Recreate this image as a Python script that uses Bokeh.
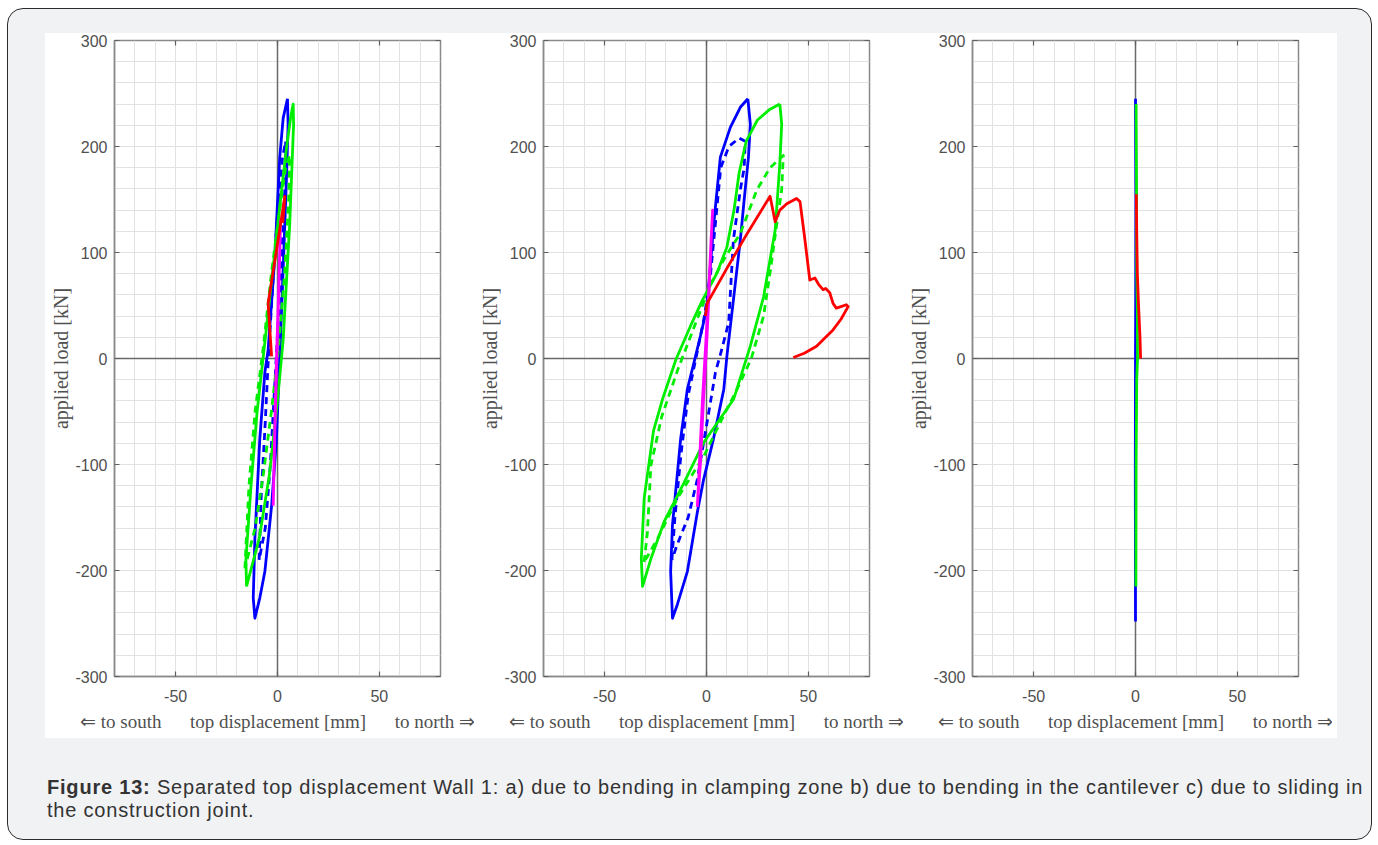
from bokeh.plotting import figure
from bokeh.layouts import row, column
from bokeh.models import Div, Span, FixedTicker, LinearAxis, Range1d
from bokeh.embed import file_html
from bokeh.resources import INLINE

# ---------------------------------------------------------------
# Load-displacement loops, Wall 1 (displacement in mm, load in kN)
# ---------------------------------------------------------------

# a) bending in the clamping zone
a_blue_x = [4.9, 5.2, 4.5, 3.6, 2.3, 1.1, -0.5, -2.9, -6.2, -8.7, -11.1, -11.9, -11.1, -8.7, -6.2, -4.6, -1.3, 1.1, 2.8, 4.9]
a_blue_y = [245, 221, 175, 127, 60, 2, -76, -139, -201, -226, -245, -226, -170, -76, -13, 8, 96, 190, 227, 245]
a_blue_dash_x = [-9.0, -8.0, -6.0, -4.5, -2.0, 0.5, 2.5, 4.0, 3.8, 2.2, 0.5, -1.5, -3.5, -6.0, -9.0]
a_blue_dash_y = [-190, -130, -60, 0, 80, 150, 190, 205, 170, 100, 40, -30, -100, -160, -190]
a_green_x = [-15.2, -15.5, -13.0, -10.0, -6.5, -2.5, 1.5, 4.5, 6.5, 7.7, 7.9, 6.0, 2.8, 0.0, -4.0, -9.0, -15.2]
a_green_y = [-215, -190, -120, -50, 10, 80, 150, 200, 228, 240, 221, 127, 18, -40, -110, -170, -215]
a_green_dash_x = [-16.0, -14.0, -11.0, -7.0, -3.0, 1.0, 4.0, 6.0, 5.5, 3.5, 0.5, -3.0, -7.0, -11.0, -16.0]
a_green_dash_y = [-198, -120, -50, 10, 80, 140, 180, 192, 150, 80, 10, -50, -110, -160, -198]
a_magenta_x = [-2.1, -1.5, -0.8, 0.0, 0.8, 1.5, 1.0, 0.3, -0.5, -1.3, -2.1]
a_magenta_y = [-139, -80, -20, 30, 80, 130, 90, 40, -10, -70, -139]
a_red_x = [-2.9, -4.6, -1.0, 1.5, 3.6, 2.6]
a_red_y = [2, 52, 96, 127, 153, 128]

# b) bending in the cantilever
b_blue_x = [20.3, 21.5, 20.6, 18.5, 16.6, 13.5, 10.0, 8.5, 3.4, -1.4, -4.5, -9.4, -14.3, -16.7, -17.6, -16.7, -12.7, -9.4, -5.4, -2.5, 0.3, 3.6, 6.8, 11.7, 16.6, 20.3]
b_blue_y = [245, 221, 190, 150, 112, 60, 2, -29, -76, -114, -145, -201, -232, -245, -201, -157, -76, -29, 2, 25, 49, 128, 190, 218, 237, 245]
b_blue_dash_x = [-17.0, -15.5, -12.5, -9.0, -5.0, -1.0, 2.0, 5.0, 7.0, 11.0, 16.0, 19.0, 18.5, 16.6, 13.2, 10.9, 7.0, 4.4, 0.3, -4.5, -9.0, -14.3, -17.0]
b_blue_dash_y = [-190, -150, -90, -35, 2, 40, 80, 140, 180, 200, 208, 205, 180, 159, 112, 34, 5, -13, -60, -114, -150, -175, -190]
b_green_x = [36.0, 36.9, 36.0, 33.7, 28.0, 21.5, 13.3, -1.3, -11.0, -20.8, -27.3, -31.4, -32.0, -30.6, -26.0, -21.6, -15.0, -8.0, -2.0, 5.0, 10.0, 13.5, 16.0, 19.5, 25.0, 31.0, 36.0]
b_green_y = [240, 221, 184, 121, 58, 11.6, -38.5, -79, -117, -154, -189, -215, -189, -132, -68, -38.5, -1, 30, 55, 80, 105, 140, 175, 205, 225, 235, 240]
b_green_dash_x = [-30.6, -29.0, -27.3, -22.0, -14.0, -5.0, 2.0, 9.0, 16.6, 24.7, 31.2, 37.7, 36.9, 34.5, 31.2, 28.0, 22.0, 15.0, 8.4, -1.3, -14.3, -24.0, -30.6]
b_green_dash_y = [-192, -164, -101, -55, -10, 35, 70, 95, 118, 159, 180, 191.5, 159, 127, 81, 40, 0, -29, -54, -92, -132, -170, -192]
b_magenta_x = [-4.5, -3.5, -2.0, -0.5, 1.0, 2.2, 3.0, 2.5, 1.2, 0.0, -1.5, -3.0, -4.5]
b_magenta_y = [-140, -100, -40, 10, 60, 110, 140, 120, 60, 10, -40, -100, -140]
b_red_x = [-0.5, 0.3, 10.0, 20.0, 31.2, 33.7, 36.0, 39.4, 44.2, 45.9, 48.3, 50.7, 53.2, 55.0, 57.2, 58.5, 60.5, 62.1, 63.7, 66.0, 68.6, 69.5, 66.0, 62.1, 54.0, 48.0, 42.6]
b_red_y = [40, 52, 85, 118, 153, 129, 140, 146, 151, 148, 112, 74, 76, 70, 65, 66, 62, 52, 47.5, 49, 50.7, 49, 37, 27, 11.6, 5, 1]

# c) sliding in the construction joint
c_blue_x = [0.0, 0.2, 0.1, 0.0, -0.1, 0.0]
c_blue_y = [245, 150, 50, 0, -100, -248]
c_green_x = [0.3, 0.5, 0.6, 0.9, 1.0, 0.6, 0.3, 0.2]
c_green_y = [240, 160, 80, 45, 0, -20, -100, -215]
c_red_x = [0.4, 0.6, 0.9, 1.5, 2.2, 2.5]
c_red_y = [155, 120, 80, 50, 20, 0]

# axis ticks and grid spacing
x_ticks = [-50, 0, 50]
y_ticks = [-300, -200, -100, 0, 100, 200, 300]
x_grid = list(range(-80, 81, 10))
y_grid = list(range(-300, 301, 20))

BLUE = "#0000ff"
GREEN = "#00ee00"
RED = "#ff0000"
MAGENTA = "#ff00ff"
LW = 2.8
DASH = "7 5"

X_LABEL = ("\u21d0 to south" + "\u00a0" * 6 + "top displacement [mm]" + "\u00a0" * 6 + "to north \u21d2")


def plain_labels(ticks):
    # plain hyphen-minus for negative tick values
    return {t: str(t) for t in ticks}


def style_axis(ax, show_labels=True):
    ax.major_tick_in = 5
    ax.major_tick_out = 0
    ax.minor_tick_line_color = None
    ax.major_tick_line_color = "#606060"
    ax.major_tick_line_width = 1.2
    if show_labels:
        ax.major_label_text_font = "Liberation Sans"
        ax.major_label_text_font_size = "16px"
        ax.major_label_text_color = "#505050"
        ax.axis_line_color = "#8a8a8a"
        ax.axis_line_width = 1.5
        ax.axis_label_text_font = "Liberation Serif"
        ax.axis_label_text_font_style = "normal"
        ax.axis_label_text_color = "#505050"
    else:
        # tick marks only: labels are switched off entirely
        ax.major_label_text_color = None
        ax.major_label_text_font_size = "0px"
        ax.major_label_standoff = 0
        ax.axis_line_color = None


def make_panel(series):
    p = figure(width=429, height=705, output_backend="svg", toolbar_location=None,
               x_range=Range1d(-80, 80), y_range=Range1d(-300, 300),
               min_border_left=69, min_border_right=34,
               min_border_top=7, min_border_bottom=62,
               background_fill_color="white", border_fill_color="white",
               outline_line_color="#8a8a8a", outline_line_width=1.5)

    xa = p.xaxis[0]
    ya = p.yaxis[0]
    xa.ticker = FixedTicker(ticks=x_ticks)
    ya.ticker = FixedTicker(ticks=y_ticks)
    xa.major_label_overrides = plain_labels(x_ticks)
    ya.major_label_overrides = plain_labels(y_ticks)
    style_axis(xa)
    style_axis(ya)
    xa.major_label_standoff = 13
    ya.major_label_standoff = 7
    xa.axis_label = X_LABEL
    xa.axis_label_text_font_size = "19px"
    xa.axis_label_standoff = 6
    ya.axis_label = "applied load [kN]"
    ya.axis_label_text_font_size = "20px"
    ya.axis_label_standoff = 0

    top = LinearAxis(ticker=FixedTicker(ticks=x_ticks))
    right = LinearAxis(ticker=FixedTicker(ticks=y_ticks))
    style_axis(top, show_labels=False)
    style_axis(right, show_labels=False)
    p.add_layout(top, "above")
    p.add_layout(right, "right")

    p.xgrid.ticker = FixedTicker(ticks=x_grid)
    p.ygrid.ticker = FixedTicker(ticks=y_grid)
    for g in (p.xgrid[0], p.ygrid[0]):
        g.grid_line_color = "#e2e2e2"
        g.grid_line_width = 1

    p.add_layout(Span(location=0, dimension="height", line_color="#6a6a6a",
                      line_width=1.5, level="underlay"))
    p.add_layout(Span(location=0, dimension="width", line_color="#6a6a6a",
                      line_width=1.5, level="underlay"))

    for xs, ys, color, dashed in series:
        p.line(xs, ys, line_color=color, line_width=LW,
               line_dash=DASH if dashed else "solid", line_join="round")
    return p


panel_a = make_panel([
    (a_blue_x, a_blue_y, BLUE, False),
    (a_blue_dash_x, a_blue_dash_y, BLUE, True),
    (a_green_x, a_green_y, GREEN, False),
    (a_green_dash_x, a_green_dash_y, GREEN, True),
    (a_magenta_x, a_magenta_y, MAGENTA, False),
    (a_red_x, a_red_y, RED, False),
])
panel_b = make_panel([
    (b_blue_x, b_blue_y, BLUE, False),
    (b_blue_dash_x, b_blue_dash_y, BLUE, True),
    (b_green_x, b_green_y, GREEN, False),
    (b_green_dash_x, b_green_dash_y, GREEN, True),
    (b_magenta_x, b_magenta_y, MAGENTA, False),
    (b_red_x, b_red_y, RED, False),
])
panel_c = make_panel([
    (c_blue_x, c_blue_y, BLUE, False),
    (c_green_x, c_green_y, GREEN, False),
    (c_red_x, c_red_y, RED, False),
])

plots = row(panel_a, panel_b, panel_c, width=1292, height=705,
            margin=(24, 0, 0, 37), styles={"background-color": "white"})

caption = Div(
    text=('<div style="font-family: \'Liberation Sans\', Arial, sans-serif; '
          'font-size: 20px; letter-spacing: 0.8px; line-height: 23px; color: #333333; '
          'white-space: nowrap;">'
          '<b>Figure 13:</b> Separated top displacement Wall 1: a) due to bending in '
          'clamping zone b) due to bending in the cantilever c) due to sliding in<br>'
          'the construction joint.</div>'),
    width=1324, height=50, margin=(38, 0, 0, 39))

page = column(plots, caption, width=1365, height=832, margin=(8, 0, 0, 7),
              styles={"background-color": "#f1f2f4",
                      "border": "1px solid #2b2b2b",
                      "border-radius": "16px"})

open("out.html", "w").write(file_html(page, INLINE))
